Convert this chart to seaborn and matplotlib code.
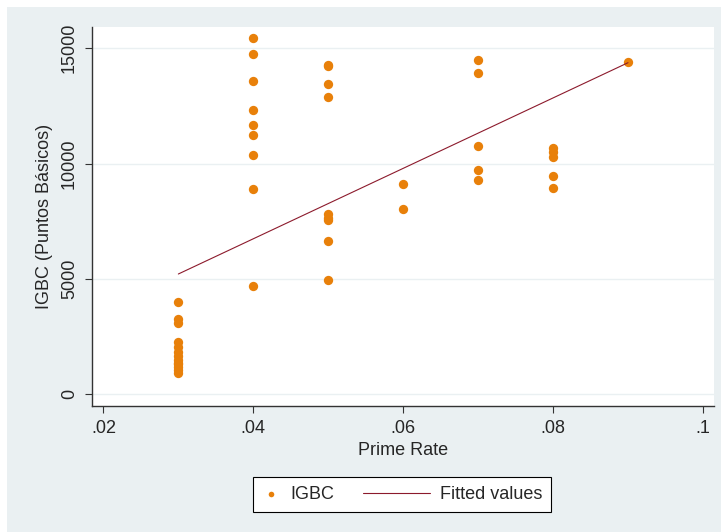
#IGBC vs Prime Rate - scatter with fitted values
import numpy as np
import pandas as pd
import matplotlib.pyplot as plt
import seaborn as sns
from matplotlib.patches import Rectangle
from matplotlib.ticker import FuncFormatter
from matplotlib.legend_handler import HandlerLine2D

#Data
rate_03 = [0.03] * 13
igbc_03 = [4010, 3280, 3100, 2250, 2050, 1850, 1650, 1500, 1350, 1300, 1200, 1050, 920]
rate_04 = [0.04] * 9
igbc_04 = [15460, 14770, 13570, 12330, 11690, 11230, 10390, 8920, 4700]
rate_05 = [0.05] * 9
igbc_05 = [14280, 14220, 13470, 12880, 7830, 7650, 7540, 6630, 4960]
rate_06 = [0.06] * 2
igbc_06 = [9120, 8020]
rate_07 = [0.07] * 5
igbc_07 = [14510, 13910, 10750, 9710, 9310]
rate_08 = [0.08] * 5
igbc_08 = [10680, 10500, 10290, 9460, 8960]
rate_09 = [0.09]
igbc_09 = [14410]

data = pd.DataFrame({
    "rate": rate_03 + rate_04 + rate_05 + rate_06 + rate_07 + rate_08 + rate_09,
    "igbc": igbc_03 + igbc_04 + igbc_05 + igbc_06 + igbc_07 + igbc_08 + igbc_09,
})

x_ticks = [0.02, 0.04, 0.06, 0.08, 0.1]
y_ticks = [0, 5000, 10000, 15000]
legend_labels = ["IGBC", "Fitted values"]

orange = "#E8800A"
maroon = "#8C1A2C"
bg = "#EAF0F2"


#longer line sample in the legend than the dot sample
class LongLine(HandlerLine2D):
    def get_xdata(self, legend, xdescent, ydescent, width, height, fontsize):
        xdata, xm = super().get_xdata(legend, xdescent, ydescent, width, height, fontsize)
        ext = 2.7 * fontsize
        return np.array([-xdescent - ext, -xdescent + width]), xm


sns.set_style("ticks")
plt.rcParams["font.family"] = ["Liberation Sans", "DejaVu Sans"]

fig = plt.figure(figsize=(7.21, 5.32), dpi=100)
fig.patch.set_facecolor("white")
fig.patches.append(Rectangle((7 / 721, 0), 1, 525 / 532, transform=fig.transFigure,
                             facecolor=bg, edgecolor="none", zorder=-10))

ax = fig.add_axes([92 / 721, 1 - 405.7 / 532, (714 - 92) / 721, (405.7 - 26.7) / 532])
ax.set_facecolor("white")

#Scatter + linear fit
sns.regplot(data=data, x="rate", y="igbc", ci=None, ax=ax,
            scatter_kws=dict(s=45, color=orange, linewidths=0, alpha=1),
            line_kws=dict(color=maroon, lw=0.8))

ax.set_xlim(0.01848, 0.10147)
ax.set_ylim(-494, 15934)
ax.set_xticks(x_ticks)
ax.set_yticks(y_ticks)
ax.xaxis.set_major_formatter(FuncFormatter(lambda v, p: f"{v:g}".lstrip("0") or "0"))
ax.yaxis.set_major_formatter(FuncFormatter(lambda v, p: f"{v:g}"))
for lab in ax.get_yticklabels():
    lab.set_rotation(90)
    lab.set_va("center")

ax.yaxis.grid(True, color=bg, lw=1)
ax.set_axisbelow(True)
sns.despine(ax=ax)
for s in ["left", "bottom"]:
    ax.spines[s].set_color("#333333")
    ax.spines[s].set_linewidth(1)
ax.tick_params(direction="out", length=5, color="#333333", labelsize=13, pad=5)

ax.set_xlabel("Prime Rate", fontsize=13, labelpad=4)
ax.set_ylabel("IGBC (Puntos Básicos)", fontsize=13, labelpad=6)

handles = [ax.collections[0], ax.lines[0]]
leg = fig.legend(handles, legend_labels, loc="center", bbox_to_anchor=(402 / 721, 1 - 494.5 / 532),
                 ncol=2, frameon=True, fancybox=False, edgecolor="black", framealpha=1,
                 handlelength=1.0, columnspacing=4.3, fontsize=13, borderpad=0.5,
                 handletextpad=0.55, scatterpoints=1, markerscale=0.6,
                 handler_map={ax.lines[0]: LongLine()})
leg.get_frame().set_linewidth(0.8)

plt.savefig("out.png", dpi=100)
